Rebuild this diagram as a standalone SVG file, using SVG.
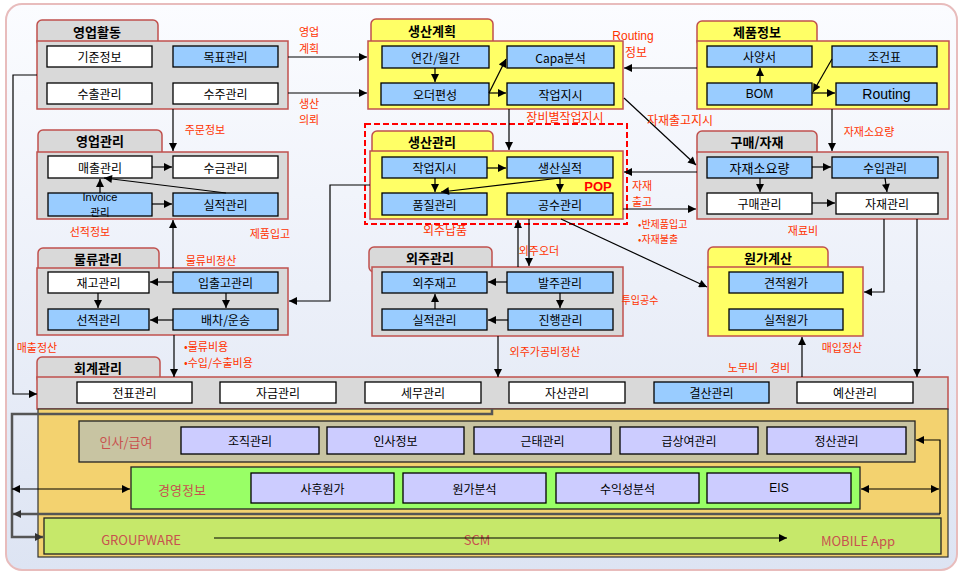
<svg xmlns="http://www.w3.org/2000/svg" width="966" height="575" viewBox="0 0 966 575">
<defs>
<linearGradient id="bg" x1="0" y1="0" x2="0" y2="1"><stop offset="0" stop-color="#fbfcff"/><stop offset="1" stop-color="#dde4f3"/></linearGradient>
<marker id="a" viewBox="0 0 10 10" refX="10" refY="5" markerWidth="9" markerHeight="8" orient="auto-start-reverse" markerUnits="userSpaceOnUse"><path d="M0,0 L10,5 L0,10 z" fill="#000"/></marker>
<marker id="ag" viewBox="0 0 10 10" refX="10" refY="5" markerWidth="9" markerHeight="8" orient="auto-start-reverse" markerUnits="userSpaceOnUse"><path d="M0,0 L10,5 L0,10 z" fill="#333"/></marker>
</defs>
<style>
text{font-family:"Noto Sans CJK KR","Liberation Sans",sans-serif;text-anchor:middle;dominant-baseline:central;font-size:12px;fill:#000}
.lat{font-family:"Liberation Sans","Noto Sans CJK KR",sans-serif}
.tab{stroke:#c0504d;stroke-width:1.5}
.g{fill:#d9d9d9}
.y{fill:#ffff66}
.body{stroke:#c0504d;stroke-width:1.5}
.bx{stroke:#000;stroke-width:1.3}
.bl{fill:#99ccff}
.wh{fill:#fff}
.lv{fill:#ccccff}
.h{font-weight:bold;font-size:13px}
.r{fill:#ff3300;font-size:11px}
.rs{fill:#ff3300;font-size:10px;text-anchor:start}
.c{fill:#c8524f;font-size:13px;font-family:"Liberation Sans Narrow","Noto Sans CJK KR",sans-serif}
.ln{fill:none;stroke:#000;stroke-width:1.2}
.lg{fill:none;stroke:#555;stroke-width:2.5}
</style>
<rect x="6" y="4" width="951" height="566" rx="16" fill="url(#bg)" stroke="#e8bcbc" stroke-width="2"/>

<g id="sales-activity">
<rect class="tab g" x="37" y="20" width="121" height="26" rx="5"/>
<rect class="body g" x="37" y="41" width="251" height="68"/>
<text class="h" x="97" y="31">영업활동</text>
<rect class="bx wh" x="47" y="46" width="105" height="21"/><text x="99.5" y="56.5">기준정보</text>
<rect class="bx bl" x="173" y="46" width="105" height="21"/><text x="225.5" y="56.5">목표관리</text>
<rect class="bx wh" x="47" y="83" width="105" height="21"/><text x="99.5" y="93.5">수출관리</text>
<rect class="bx wh" x="173" y="83" width="105" height="21"/><text x="225.5" y="93.5">수주관리</text>
</g>

<g id="production-plan">
<rect class="tab y" x="371" y="19" width="122" height="27" rx="5"/>
<rect class="body y" x="368" y="41" width="255" height="68"/>
<text class="h" x="432" y="30">생산계획</text>
<rect class="bx bl" x="382" y="46" width="107" height="22"/><text x="435.5" y="57">연간/월간</text>
<rect class="bx bl" x="507" y="46" width="107" height="22"/><text x="560.5" y="57">Capa분석</text>
<rect class="bx bl" x="381" y="83" width="108" height="22"/><text x="435" y="94">오더편성</text>
<rect class="bx bl" x="507" y="83" width="107" height="22"/><text x="560.5" y="94">작업지시</text>
</g>

<g id="product-info">
<rect class="tab y" x="697" y="21" width="120" height="25" rx="5"/>
<rect class="body y" x="697" y="41" width="252" height="68"/>
<text class="h" x="757" y="31">제품정보</text>
<rect class="bx bl" x="707" y="46" width="105" height="21"/><text x="759.5" y="56.5">사양서</text>
<rect class="bx bl" x="832" y="46" width="105" height="21"/><text x="884.5" y="56.5">조건표</text>
<rect class="bx bl" x="707" y="83" width="105" height="22"/><text class="lat" x="759.5" y="94">BOM</text>
<rect class="bx bl" x="836" y="83" width="101" height="22"/><text class="lat" x="886.5" y="94" style="font-size:14px">Routing</text>
</g>

<g id="sales-mgmt">
<rect class="tab g" x="38" y="130" width="124" height="27" rx="5"/>
<rect class="body g" x="37" y="152" width="251" height="67"/>
<text class="h" x="100" y="140">영업관리</text>
<rect class="bx wh" x="48" y="156" width="104" height="22"/><text x="100" y="167">매출관리</text>
<rect class="bx wh" x="173" y="156" width="105" height="22"/><text x="225.5" y="167">수금관리</text>
<rect class="bx bl" x="48" y="193" width="104" height="23"/><text class="lat" x="100" y="197" style="font-size:11px">Invoice</text><text x="100" y="211" style="font-size:10.5px">관리</text>
<rect class="bx bl" x="173" y="193" width="105" height="23"/><text x="225.5" y="204.5">실적관리</text>
</g>

<g id="production-mgmt">
<rect x="365" y="124" width="262" height="100" fill="none" stroke="#ff0000" stroke-width="2" stroke-dasharray="6,3"/>
<rect class="tab y" x="372" y="131" width="121" height="25" rx="5"/>
<rect class="body y" x="370" y="151" width="253" height="68"/>
<text class="h" x="432" y="141">생산관리</text>
<rect class="bx bl" x="382" y="157" width="105" height="21"/><text x="434.5" y="167.5">작업지시</text>
<rect class="bx bl" x="507" y="157" width="106" height="21"/><text x="560" y="167.5">생산실적</text>
<rect class="bx bl" x="382" y="193" width="105" height="22"/><text x="434.5" y="204">품질관리</text>
<rect class="bx bl" x="507" y="193" width="106" height="22"/><text x="560" y="204">공수관리</text>
<text class="lat" x="598" y="186" style="fill:#ff0000;font-weight:bold;font-size:13px">POP</text>
</g>

<g id="purchase">
<rect class="tab g" x="697" y="131" width="120" height="26" rx="5"/>
<rect class="body g" x="697" y="152" width="251" height="67"/>
<text class="h" x="757" y="141">구매/자재</text>
<rect class="bx bl" x="707" y="157" width="105" height="21"/><text x="759.5" y="167.5" style="font-size:13px">자재소요량</text>
<rect class="bx bl" x="832" y="157" width="106" height="21"/><text x="885" y="167.5">수입관리</text>
<rect class="bx wh" x="707" y="193" width="105" height="21"/><text x="759.5" y="203.5">구매관리</text>
<rect class="bx wh" x="836" y="193" width="102" height="21"/><text x="887" y="203.5">자재관리</text>
</g>

<g id="logistics">
<rect class="tab g" x="38" y="248" width="121" height="25" rx="5"/>
<rect class="body g" x="37" y="268" width="251" height="67"/>
<text class="h" x="98" y="258">물류관리</text>
<rect class="bx wh" x="48" y="272" width="101" height="21"/><text x="98.5" y="282.5">재고관리</text>
<rect class="bx bl" x="173" y="272" width="105" height="21"/><text x="225.5" y="282.5">입출고관리</text>
<rect class="bx bl" x="48" y="309" width="101" height="21"/><text x="98.5" y="319.5">선적관리</text>
<rect class="bx bl" x="173" y="309" width="105" height="21"/><text x="225.5" y="319.5">배차/운송</text>
</g>

<g id="outsourcing">
<rect class="tab g" x="369" y="247" width="123" height="25" rx="5"/>
<rect class="body g" x="372" y="267" width="251" height="69"/>
<text class="h" x="430" y="257">외주관리</text>
<rect class="bx bl" x="382" y="272" width="105" height="21"/><text x="434.5" y="282.5">외주재고</text>
<rect class="bx bl" x="507" y="272" width="106" height="21"/><text x="560" y="282.5">발주관리</text>
<rect class="bx bl" x="382" y="309" width="105" height="21"/><text x="434.5" y="319.5">실적관리</text>
<rect class="bx bl" x="508" y="309" width="105" height="21"/><text x="560.5" y="319.5">진행관리</text>
</g>

<g id="costing">
<rect class="tab y" x="708" y="247" width="120" height="25" rx="5"/>
<rect class="body y" x="708" y="267" width="155" height="69"/>
<text class="h" x="768" y="257">원가계산</text>
<rect class="bx bl" x="729" y="272" width="114" height="21"/><text x="786" y="282.5">견적원가</text>
<rect class="bx bl" x="729" y="309" width="114" height="21"/><text x="786" y="319.5">실적원가</text>
</g>

<g id="accounting">
<rect class="tab g" x="37" y="357" width="123" height="26" rx="5"/>
<rect class="body g" x="37" y="377" width="911" height="32"/>
<text class="h" x="98" y="367">회계관리</text>
<rect class="bx wh" x="77" y="382" width="115" height="21"/><text x="134.5" y="392.5">전표관리</text>
<rect class="bx wh" x="220" y="382" width="116" height="21"/><text x="278" y="392.5">자금관리</text>
<rect class="bx wh" x="365" y="382" width="116" height="21"/><text x="423" y="392.5">세무관리</text>
<rect class="bx wh" x="509" y="382" width="116" height="21"/><text x="567" y="392.5">자산관리</text>
<rect class="bx bl" x="654" y="382" width="115" height="21"/><text x="711.5" y="392.5">결산관리</text>
<rect class="bx wh" x="797" y="382" width="116" height="21"/><text x="855" y="392.5">예산관리</text>
</g>

<g id="base-systems">
<rect x="38" y="409" width="910" height="148" fill="#f3d26f" stroke="#333" stroke-width="1.2"/>
<g id="hr">
<rect x="79" y="421" width="836" height="41" fill="#c8c4a2" stroke="#222" stroke-width="1.3"/>
<text class="c" x="126" y="441">인사/급여</text>
<rect class="bx lv" x="181" y="427" width="138" height="27"/><text x="250" y="440.5">조직관리</text>
<rect class="bx lv" x="327" y="427" width="137" height="27"/><text x="395.5" y="440.5">인사정보</text>
<rect class="bx lv" x="474" y="427" width="137" height="27"/><text x="542.5" y="440.5">근태관리</text>
<rect class="bx lv" x="620" y="427" width="138" height="27"/><text x="689" y="440.5">급상여관리</text>
<rect class="bx lv" x="767" y="427" width="139" height="27"/><text x="836.5" y="440.5">정산관리</text>
</g>
<g id="mgmt-info">
<rect x="131" y="467" width="729" height="42" fill="#99ff66" stroke="#222" stroke-width="1.3"/>
<text class="c" x="182" y="489">경영정보</text>
<rect class="bx lv" x="251" y="473" width="143" height="30"/><text x="322.5" y="488">사후원가</text>
<rect class="bx lv" x="403" y="473" width="143" height="30"/><text x="474.5" y="488">원가분석</text>
<rect class="bx lv" x="556" y="473" width="143" height="30"/><text x="627.5" y="488">수익성분석</text>
<rect class="bx lv" x="707" y="473" width="144" height="30"/><text class="lat" x="779" y="488">EIS</text>
</g>
<g id="groupware">
<rect x="44" y="518" width="897" height="36" fill="#c6e86a" stroke="#222" stroke-width="1.3"/>
<text class="c" x="141" y="539">GROUPWARE</text>
<text class="c" x="477" y="539">SCM</text>
<text class="c" x="858" y="540">MOBILE App</text>
</g>
</g>

<g id="connectors">
<path class="ln" d="M288,57 H367" marker-end="url(#a)"/>
<path class="ln" d="M288,93 H367" marker-end="url(#a)"/>
<path class="ln" d="M697,68 H624" marker-end="url(#a)"/>
<path class="ln" d="M509,109 V150" marker-end="url(#a)"/>
<path class="ln" d="M624,98 L696,165" marker-end="url(#a)"/>
<path class="ln" d="M832,109 V151" marker-end="url(#a)"/>
<path class="ln" d="M697,172 H624" marker-end="url(#a)"/>
<path class="ln" d="M623,209 H696" marker-end="url(#a)"/>
<path class="ln" d="M561,219 L707,287" marker-end="url(#a)"/>
<path class="ln" d="M370,185 H330 V301 H289" marker-end="url(#a)"/>
<path class="ln" d="M518,267 V220" marker-end="url(#a)"/>
<path class="ln" d="M529,219 V266" marker-end="url(#a)"/>
<path class="ln" d="M173,109 V151" marker-end="url(#a)"/>
<path class="ln" d="M173,268 V220" marker-end="url(#a)"/>
<path class="ln" d="M174,335 V377" marker-end="url(#a)"/>
<path class="ln" d="M498,336 V377" marker-end="url(#a)"/>
<path class="ln" d="M884,219 V292 H864" marker-end="url(#a)"/>
<path class="ln" d="M917,219 V377" marker-end="url(#a)"/>
<path class="ln" d="M802,377 V337" marker-end="url(#a)"/>
<path class="ln" d="M37,75 H13 V394 H37" marker-end="url(#a)"/>
<path class="lg" d="M492,409 V414 H12 V537 H43" marker-end="url(#ag)"/>
<path class="ln" d="M12,489 H130" marker-start="url(#a)" marker-end="url(#a)"/>
<path class="ln" d="M861,489 H939" marker-start="url(#a)" marker-end="url(#a)"/>
<path class="lg" d="M940,514 H13" marker-end="url(#ag)"/>
<path class="ln" d="M940,514 V440 H916" marker-end="url(#a)"/>
<path class="ln" d="M214,538 H787" marker-end="url(#a)"/>
<path class="ln" d="M435,68 V82" marker-end="url(#a)"/>
<path class="ln" d="M489,93 L506,59" marker-end="url(#a)"/>
<path class="ln" d="M489,93 H506" stroke-width="2" marker-end="url(#a)"/>
<path class="ln" d="M760,83 V68" marker-end="url(#a)"/>
<path class="ln" d="M832,59 L813,92" marker-end="url(#a)"/>
<path class="ln" d="M812,93 H835" marker-end="url(#a)"/>
<path class="ln" d="M152,167 H172" marker-end="url(#a)"/>
<path class="ln" d="M152,204 H172" marker-end="url(#a)"/>
<path class="ln" d="M100,193 V179" marker-end="url(#a)"/>
<path class="ln" d="M226,193 L104,178" marker-end="url(#a)"/>
<path class="ln" d="M487,168 H506" marker-end="url(#a)"/>
<path class="ln" d="M435,178 V192" marker-end="url(#a)"/>
<path class="ln" d="M560,178 V192" marker-end="url(#a)"/>
<path class="ln" d="M560,178 L441,192" marker-end="url(#a)"/>
<path class="ln" d="M812,167 H831" marker-end="url(#a)"/>
<path class="ln" d="M760,178 V192" marker-end="url(#a)"/>
<path class="ln" d="M885,178 L887,192" marker-end="url(#a)"/>
<path class="ln" d="M812,203 H835" marker-end="url(#a)"/>
<path class="ln" d="M173,282 H150" marker-end="url(#a)"/>
<path class="ln" d="M98,293 V308" marker-end="url(#a)"/>
<path class="ln" d="M226,293 V308" marker-end="url(#a)"/>
<path class="ln" d="M173,320 H150" marker-end="url(#a)"/>
<path class="ln" d="M507,282 H488" marker-end="url(#a)"/>
<path class="ln" d="M560,293 V308" marker-end="url(#a)"/>
<path class="ln" d="M508,320 H488" marker-end="url(#a)"/>
<path class="ln" d="M435,309 V294" marker-end="url(#a)"/>
</g>

<g id="labels">
<text class="r" x="309" y="31">영업</text><text class="r" x="309" y="47.5">계획</text>
<text class="r" x="309" y="103">생산</text><text class="r" x="309" y="119">의뢰</text>
<text class="r lat" x="633" y="36" style="font-size:12px">Routing</text><text class="r" x="636" y="51.5" style="font-size:12px">정보</text>
<text class="r" x="565" y="116" style="font-size:12px">장비별작업지시</text>
<text class="r" x="680" y="119" style="font-size:12px">자재출고지시</text>
<text class="r" x="869" y="131">자재소요량</text>
<text class="r" x="205" y="129">주문정보</text>
<text class="r" x="270" y="233">제품입고</text>
<text class="r" x="90" y="231">선적정보</text>
<text class="r" x="445" y="229" style="font-size:12px">외주납품</text>
<text class="r" x="539" y="250">외주오더</text>
<text class="r" x="642" y="185">자재</text><text class="r" x="642" y="201">출고</text>
<text class="rs" x="638" y="223">•반제품입고</text><text class="rs" x="638" y="238">•자재불출</text>
<text class="r" x="803" y="230">재료비</text>
<text class="r" x="211" y="260">물류비정산</text>
<text class="r" x="640" y="299" style="font-size:10px">투입공수</text>
<text class="r" x="37" y="347">매출정산</text>
<text class="rs" x="184" y="346" style="font-size:11px">•물류비용</text><text class="rs" x="184" y="362" style="font-size:11px">•수입/수출비용</text>
<text class="r" x="545" y="351">외주가공비정산</text>
<text class="r" x="842" y="347">매입정산</text>
<text class="r" x="743" y="367">노무비</text><text class="r" x="780" y="367">경비</text>
</g>
</svg>
